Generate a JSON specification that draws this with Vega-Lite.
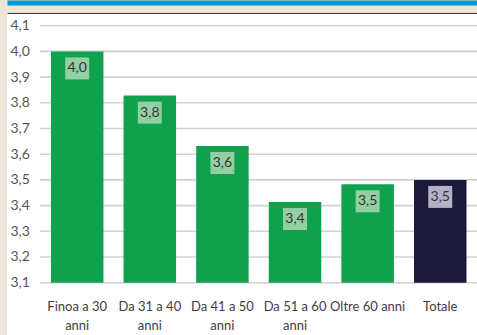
{
  "$schema": "https://vega.github.io/schema/vega-lite/v6.json",
  "width": 470,
  "height": 322,
  "autosize": {"type": "none"},
  "padding": {"left": 7, "top": 13, "right": 0, "bottom": 0},
  "background": "#ece5da",
  "config": {
    "view": {"fill": "#ffffff", "stroke": null},
    "font": "Lato, Noto Sans, sans-serif",
    "locale": {"number": {"decimal": ",", "thousands": ".", "grouping": [3], "currency": ["", " €"]}}
  },
  "datasets": {
    "griglia": [
      {"livello": 3.1}, {"livello": 3.2}, {"livello": 3.3}, {"livello": 3.4},
      {"livello": 3.5}, {"livello": 3.6}, {"livello": 3.7}, {"livello": 3.8},
      {"livello": 3.9}, {"livello": 4.0}, {"livello": 4.1}
    ],
    "punteggi": [
      {"categoria": "Finoa a 30 anni", "valore": 4.0, "gruppo": "età"},
      {"categoria": "Da 31 a 40 anni", "valore": 3.828, "gruppo": "età"},
      {"categoria": "Da 41 a 50 anni", "valore": 3.632, "gruppo": "età"},
      {"categoria": "Da 51 a 60 anni", "valore": 3.414, "gruppo": "età"},
      {"categoria": "Oltre 60 anni", "valore": 3.483, "gruppo": "età"},
      {"categoria": "Totale", "valore": 3.5, "gruppo": "totale"}
    ]
  },
  "layer": [
    {
      "data": {"name": "griglia"},
      "mark": {"type": "rule", "color": "#d2d2d2", "strokeWidth": 1.6},
      "encoding": {
        "x": {
          "datum": 0,
          "type": "quantitative",
          "scale": {"domain": [-0.0755, 1], "nice": false, "zero": false},
          "axis": {"orient": "top", "labels": false, "ticks": false, "grid": false, "domain": true, "domainColor": "#0098d4", "domainWidth": 5, "offset": 10.5, "title": null}
        },
        "x2": {"datum": 1},
        "y": {
          "field": "livello",
          "type": "quantitative",
          "scale": {"domain": [2.8965, 4.1494], "nice": false, "zero": false},
          "axis": {"values": [3.1, 3.2, 3.3, 3.4, 3.5, 3.6, 3.7, 3.8, 3.9, 4.0, 4.1], "format": ".1f", "grid": false, "domain": false, "ticks": false, "tickSize": 0, "labelAlign": "left", "labelBaseline": "middle", "labelPadding": -3, "labelFontSize": 14, "labelColor": "#555555", "title": null}
        }
      }
    },
    {
      "data": {"name": "punteggi"},
      "mark": {"type": "bar"},
      "encoding": {
        "x": {
          "field": "categoria",
          "type": "nominal",
          "sort": null,
          "scale": {"type": "band", "paddingInner": 0.277, "paddingOuter": 0.375, "align": 0.807},
          "axis": {"orient": "bottom", "offset": -52, "labelPadding": 17, "domain": false, "ticks": false, "tickSize": 0, "grid": false, "labelAngle": 0, "labelFontSize": 13, "labelColor": "#404040", "labelLineHeight": 19, "labelLimit": 0, "labelOverlap": false, "title": null,
            "labelExpr": "datum.label != 'Oltre 60 anni' && indexof(datum.label, ' anni') > 0 ? [replace(datum.label, ' anni', ''), 'anni'] : datum.label"}
        },
        "y": {
          "field": "valore",
          "type": "quantitative",
          "scale": {"domain": [2.8965, 4.1494], "nice": false, "zero": false},
          "axis": {"values": [3.1, 3.2, 3.3, 3.4, 3.5, 3.6, 3.7, 3.8, 3.9, 4.0, 4.1], "format": ".1f", "grid": false, "domain": false, "ticks": false, "tickSize": 0, "labelAlign": "left", "labelBaseline": "middle", "labelPadding": -3, "labelFontSize": 14, "labelColor": "#555555", "title": null}
        },
        "y2": {"datum": 3.1},
        "color": {
          "field": "gruppo",
          "type": "nominal",
          "scale": {"domain": ["età", "totale"], "range": ["#10a14c", "#1b1a3a"]},
          "legend": null
        }
      }
    },
    {
      "data": {"name": "punteggi"},
      "mark": {"type": "point", "shape": "M-1.09,-1H1.09V1H-1.09Z", "size": 484, "filled": true, "opacity": 1, "strokeWidth": 0, "yOffset": 17},
      "encoding": {
        "x": {
          "field": "categoria",
          "type": "nominal",
          "sort": null,
          "scale": {"type": "band", "paddingInner": 0.277, "paddingOuter": 0.375, "align": 0.807},
          "axis": {"orient": "top", "labels": false, "ticks": false, "grid": false, "domain": true, "domainColor": "#3a332d", "domainWidth": 1.2, "offset": 0, "title": null}
        },
        "y": {
          "field": "valore",
          "type": "quantitative",
          "scale": {"domain": [2.8965, 4.1494], "nice": false, "zero": false},
          "axis": {"values": [3.1, 3.2, 3.3, 3.4, 3.5, 3.6, 3.7, 3.8, 3.9, 4.0, 4.1], "format": ".1f", "grid": false, "domain": false, "ticks": false, "tickSize": 0, "labelAlign": "left", "labelBaseline": "middle", "labelPadding": -3, "labelFontSize": 14, "labelColor": "#555555", "title": null}
        },
        "fill": {
          "field": "gruppo",
          "type": "nominal",
          "scale": {"domain": ["età", "totale"], "range": ["#92d0a3", "#b6b1c8"]},
          "legend": null
        }
      }
    },
    {
      "data": {"name": "punteggi"},
      "mark": {"type": "text", "yOffset": 17, "fontSize": 14, "color": "#333333", "baseline": "middle", "align": "center"},
      "encoding": {
        "x": {
          "field": "categoria",
          "type": "nominal",
          "sort": null,
          "scale": {"type": "band", "paddingInner": 0.277, "paddingOuter": 0.375, "align": 0.807},
          "axis": null
        },
        "y": {
          "field": "valore",
          "type": "quantitative",
          "scale": {"domain": [2.8965, 4.1494], "nice": false, "zero": false},
          "axis": {"values": [3.1, 3.2, 3.3, 3.4, 3.5, 3.6, 3.7, 3.8, 3.9, 4.0, 4.1], "format": ".1f", "grid": false, "domain": false, "ticks": false, "tickSize": 0, "labelAlign": "left", "labelBaseline": "middle", "labelPadding": -3, "labelFontSize": 14, "labelColor": "#555555", "title": null}
        },
        "text": {"field": "valore", "type": "quantitative", "format": ".1f"}
      }
    }
  ],
  "resolve": {"scale": {"x": "independent"}}
}
